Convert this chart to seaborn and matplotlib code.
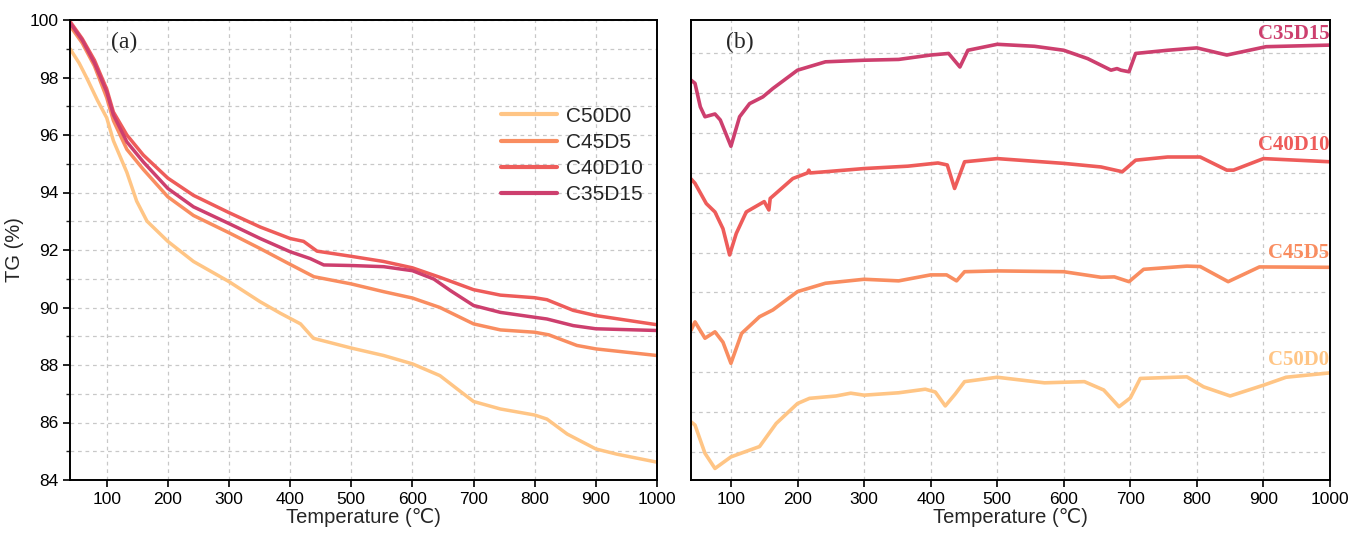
import numpy as np
import pandas as pd
import matplotlib
matplotlib.use("Agg")
import matplotlib.pyplot as plt
import seaborn as sns
from matplotlib.ticker import MultipleLocator

sns.set_theme(style="white")
plt.rcParams['font.family'] = ['Liberation Sans', 'DejaVu Sans']
plt.rcParams['lines.solid_joinstyle'] = 'round'
plt.rcParams['lines.solid_capstyle'] = 'round'

series = ["C50D0", "C45D5", "C40D10", "C35D15"]
colors = ["#FFC585", "#F98D60", "#EE5C5A", "#CD3F6E"]

# ---- (a) TG curves ----
tg_T = {
    "C50D0": [40, 55, 67, 85, 100, 111, 133, 149, 166, 200, 242, 300, 351, 384, 417, 438, 500, 553, 600, 645, 673, 700, 744, 800, 820, 853, 900, 934, 1000],
    "C45D5": [40, 60, 80, 100, 111, 133, 160, 200, 242, 300, 351, 400, 439, 500, 553, 600, 645, 700, 744, 800, 823, 869, 900, 1000],
    "C40D10": [40, 60, 80, 100, 111, 133, 160, 200, 242, 300, 351, 400, 422, 444, 500, 553, 600, 645, 700, 744, 800, 820, 863, 900, 1000],
    "C35D15": [40, 60, 80, 100, 111, 133, 160, 200, 242, 300, 351, 400, 433, 455, 500, 553, 600, 635, 662, 700, 744, 800, 820, 863, 900, 1000],
}
tg_val = {
    "C50D0": [99.0, 98.5, 98.0, 97.2, 96.6, 95.8, 94.7, 93.7, 93.0, 92.3, 91.6, 90.9, 90.2, 89.8, 89.43, 88.93, 88.59, 88.33, 88.04, 87.63, 87.17, 86.73, 86.47, 86.26, 86.12, 85.6, 85.08, 84.9, 84.62],
    "C45D5": [99.8, 99.2, 98.4, 97.3, 96.5, 95.5, 94.8, 93.85, 93.2, 92.6, 92.05, 91.5, 91.07, 90.82, 90.55, 90.33, 90.0, 89.43, 89.22, 89.14, 89.05, 88.68, 88.56, 88.33],
    "C40D10": [99.95, 99.35, 98.6, 97.6, 96.8, 96.0, 95.3, 94.5, 93.9, 93.3, 92.8, 92.4, 92.3, 91.96, 91.78, 91.6, 91.38, 91.05, 90.62, 90.43, 90.34, 90.27, 89.9, 89.72, 89.4],
    "C35D15": [99.9, 99.3, 98.5, 97.5, 96.7, 95.76, 95.06, 94.14, 93.5, 92.92, 92.4, 91.94, 91.7, 91.48, 91.46, 91.42, 91.28, 90.99, 90.59, 90.07, 89.83, 89.66, 89.6, 89.37, 89.26, 89.2],
}

# ---- (b) DTG curves (vertically offset, arbitrary units) ----
dtg_T = {
    "C50D0": [40, 46, 61, 76, 100, 128, 143, 168, 200, 218, 258, 280, 300, 352, 392, 407, 422, 437, 451, 500, 571, 631, 660, 683, 700, 715, 785, 810, 850, 900, 934, 1000],
    "C45D5": [40, 46, 61, 76, 88, 100, 116, 143, 163, 200, 242, 300, 352, 400, 424, 439, 451, 500, 600, 656, 676, 698, 720, 785, 805, 847, 894, 1000],
    "C40D10": [40, 46, 63, 76, 88, 98, 108, 123, 150, 157, 159, 193, 215, 217, 219, 242, 300, 366, 411, 425, 436, 451, 500, 600, 656, 688, 708, 756, 805, 845, 855, 900, 1000],
    "C35D15": [40, 46, 54, 61, 76, 84, 100, 113, 128, 148, 163, 200, 242, 300, 352, 400, 427, 444, 456, 500, 556, 600, 636, 671, 680, 686, 698, 708, 756, 800, 845, 904, 1000],
}
dtg_val = {
    "C50D0": [0.75, 0.67, -0.04, -0.42, -0.13, 0.04, 0.13, 0.71, 1.21, 1.34, 1.40, 1.47, 1.42, 1.48, 1.57, 1.50, 1.15, 1.45, 1.76, 1.87, 1.73, 1.76, 1.55, 1.13, 1.35, 1.84, 1.88, 1.63, 1.40, 1.67, 1.87, 1.98],
    "C45D5": [3.05, 3.26, 2.85, 3.01, 2.75, 2.22, 2.97, 3.39, 3.56, 4.02, 4.23, 4.33, 4.29, 4.44, 4.44, 4.29, 4.52, 4.54, 4.52, 4.38, 4.39, 4.27, 4.58, 4.66, 4.65, 4.27, 4.64, 4.63],
    "C40D10": [6.85, 6.74, 6.23, 6.02, 5.6, 4.94, 5.48, 6.02, 6.28, 6.07, 6.36, 6.86, 7.0, 7.07, 7.0, 7.03, 7.11, 7.17, 7.25, 7.2, 6.61, 7.28, 7.36, 7.24, 7.15, 7.03, 7.32, 7.40, 7.40, 7.07, 7.07, 7.36, 7.28],
    "C35D15": [9.33, 9.25, 8.66, 8.41, 8.48, 8.33, 7.67, 8.41, 8.74, 8.91, 9.12, 9.58, 9.79, 9.83, 9.85, 9.96, 10.0, 9.66, 10.08, 10.23, 10.18, 10.08, 9.87, 9.58, 9.62, 9.58, 9.54, 10.0, 10.08, 10.14, 9.96, 10.17, 10.21],
}
dtg_label_y = [2.30, 4.99, 7.70, 10.5]

x_ticks = [100, 200, 300, 400, 500, 600, 700, 800, 900, 1000]

W, H = 13.64, 5.34
fig = plt.figure(figsize=(W, H), dpi=100)
ax1 = fig.add_axes([70 / 1364, 1 - 480 / 534, 587 / 1364, 460 / 534])
ax2 = fig.add_axes([691 / 1364, 1 - 480 / 534, 639 / 1364, 460 / 534])

grid_kw = dict(color="#c8c8c8", linestyle=(0, (3, 3)), linewidth=0.9)

for name, c in zip(series, colors):
    sns.lineplot(x=tg_T[name], y=tg_val[name], color=c, lw=2.5, ax=ax1, label=name)

ax1.set_xlim(40, 1000)
ax1.set_ylim(84, 100)
ax1.set_xticks(x_ticks)
ax1.set_yticks(np.arange(84, 101, 2))
ax1.yaxis.set_minor_locator(MultipleLocator(1))
ax1.grid(True, which="major", axis="x", **grid_kw)
ax1.grid(True, which="both", axis="y", **grid_kw)
ax1.set_axisbelow(True)
ax1.tick_params(axis="both", which="major", direction="out", length=5, width=1.2,
                labelsize=12.5, colors="black", bottom=True, left=True)
ax1.tick_params(axis="y", which="minor", direction="out", length=3, width=1.0, left=True)
ax1.set_xlabel("Temperature (℃)", fontsize=14.5, labelpad=1)
ax1.set_ylabel("TG (%)", fontsize=14.5, labelpad=4)
ax1.text(0.07, 0.975, "(a)", transform=ax1.transAxes, fontsize=17, va="top",
         family=["Liberation Serif", "DejaVu Serif"])
leg = ax1.legend(loc="upper left", bbox_to_anchor=(0.72, 0.83), frameon=False,
                 fontsize=15, handlelength=2.7, labelspacing=0.35, handletextpad=0.4,
                 borderaxespad=0)
for l in leg.get_lines():
    l.set_linewidth(3)

for name, c, ly in zip(series, colors, dtg_label_y):
    sns.lineplot(x=dtg_T[name], y=dtg_val[name], color=c, lw=2.6, ax=ax2)
    ax2.text(999, ly, name, color=c, fontsize=15, fontweight="bold", ha="right", va="center",
             family=["Liberation Serif", "DejaVu Serif"])

ax2.set_xlim(40, 1000)
ax2.set_ylim(-0.71, 10.84)
ax2.set_xticks(x_ticks)
ax2.set_yticks(np.arange(0, 11, 1))
ax2.set_yticklabels([])
ax2.grid(True, which="major", **grid_kw)
ax2.set_axisbelow(True)
ax2.tick_params(axis="x", which="major", direction="out", length=5, width=1.2,
                labelsize=12.5, colors="black", bottom=True)
ax2.tick_params(axis="y", left=False)
ax2.set_xlabel("Temperature (℃)", fontsize=14.5, labelpad=1)
ax2.set_ylabel("")
ax2.text(0.055, 0.975, "(b)", transform=ax2.transAxes, fontsize=17, va="top",
         family=["Liberation Serif", "DejaVu Serif"])

for ax in (ax1, ax2):
    for s in ax.spines.values():
        s.set_visible(True)
        s.set_color("black")
        s.set_linewidth(1.4)

fig.savefig("out.png", dpi=100)
